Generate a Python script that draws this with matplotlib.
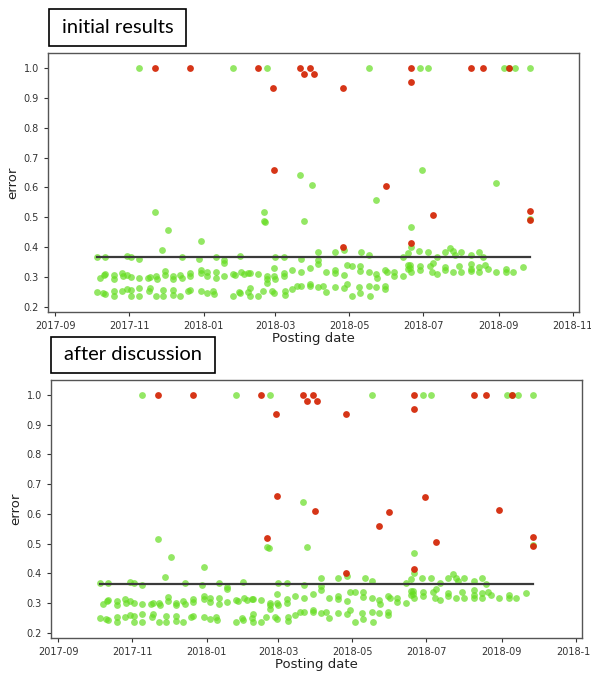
import numpy as np
import pandas as pd
import matplotlib
matplotlib.use("Agg")
import matplotlib.pyplot as plt
import matplotlib.dates as mdates
from matplotlib.patches import Rectangle

# Data: day offsets from 2017-09-01 and error values
start = pd.Timestamp("2017-09-01")

# green points common to both panels
green_days = [
    34, 41, 59, 62, 69, 104, 118, 132, 139, 139, 152,
    88, 93, 120, 82,
    40, 37, 41, 48, 48, 55, 56, 59, 62, 69, 76, 78, 83, 84, 90, 90, 97, 97,
    103, 104, 111, 111, 120, 120, 125, 125, 132, 132, 139, 146, 148, 153, 155, 159,
    34, 39, 41, 48, 48, 55, 59, 62, 62, 69, 69, 77, 78, 83, 89, 89, 97, 97,
    103, 109, 111, 120, 125, 130, 131, 146, 151, 152, 159,
    172, 173, 205, 201,
    181, 188, 202, 216, 216, 216, 230, 238, 252, 258, 286, 290,
    160, 167, 174, 174, 180, 180, 181, 188, 188, 195, 202, 210, 223, 230, 230,
    238, 240, 244, 251, 251, 258, 264, 265, 271, 273, 279, 279, 286, 290, 290,
    160, 160, 167, 171, 174, 178, 180, 189, 189, 195, 199, 202, 210, 210, 216,
    220, 223, 230, 238, 240, 244, 250, 251, 258, 259, 264, 271, 271,
    293, 293, 299, 307, 314, 321, 325, 327, 329, 334, 342, 349, 352,
    292, 292, 293, 300, 300, 308, 310, 311, 314, 321, 321, 327, 332, 334, 342,
    342, 342, 349, 349, 354, 356, 363, 371, 371, 377, 385,
    69, 146, 174, 258, 300, 307, 369, 373, 378, 391,
    391,
]
green_vals = [
    .368, .368, .37, .368, .36, .368, .36, .368, .356, .347, .37,
    .389, .456, .422, .517,
    .308, .297, .31, .308, .294, .313, .302, .308, .301, .297, .297, .301, .302, .294, .321, .308, .302, .294,
    .308, .297, .313, .305, .324, .313, .304, .317, .316, .298, .305, .31, .308, .317, .31, .313,
    .25, .246, .243, .252, .238, .252, .261, .236, .256, .263, .236, .252, .263, .236, .258, .236, .258, .241,
    .236, .254, .258, .252, .246, .252, .243, .236, .25, .245, .25,
    .489, .484, .488, .641,
    .368, .368, .36, .384, .358, .343, .384, .391, .384, .375, .367, .38,
    .313, .31, .302, .294, .33, .302, .294, .313, .302, .324, .317, .33, .317, .324, .313,
    .308, .339, .337, .337, .321, .317, .31, .298, .324, .317, .317, .304, .302, .341, .328,
    .263, .238, .238, .254, .28, .254, .246, .252, .241, .261, .269, .27, .277, .269, .266,
    .269, .25, .268, .263, .277, .237, .266, .246, .269, .237, .268, .269, .261,
    .469, .40, .386, .383, .367, .384, .397, .386, .375, .384, .375, .384, .366,
    .341, .33, .317, .337, .324, .337, .317, .347, .31, .335, .324, .317, .337, .317, .343,
    .328, .319, .335, .317, .339, .328, .317, .328, .317, .316, .335,
    1.0, 1.0, 1.0, 1.0, 1.0, 1.0, 1.0, 1.0, 1.0, 1.0,
    .495,
]

# points that are green in the first panel and red after discussion
moved_days = [172, 211, 264, 302, 363]
moved_vals = [.518, .609, .558, .657, .614]

# red points in both panels
red_days = [82, 111, 167, 201, 210, 293, 342, 352, 373, 205, 213, 179, 237, 293,
            180, 272, 311, 391, 391, 293, 237]
red_vals = [1.0, 1.0, 1.0, 1.0, 1.0, 1.0, 1.0, 1.0, 1.0, .98, .98, .934, .934, .953,
            .66, .605, .507, .521, .491, .415, .40]

mean_error = 0.366
line_days = [34, 391]

titles = ["initial results", "after discussion"]


def to_dates(days):
    return start + pd.to_timedelta(days, unit="D")


green_c = "#66dd22"
red_c = "#d42a0a"

fig = plt.figure(figsize=(5.91, 6.73), dpi=100)
ax_pos = [[0.0812, 0.5364, 0.8985, 0.3848], [0.0863, 0.0520, 0.8985, 0.3834]]
box_pos = [[49, 9, 137, 37], [51, 337, 164, 36]]

for k in range(2):
    ax = fig.add_axes(ax_pos[k])
    if k == 0:
        g_d = green_days + moved_days
        g_v = green_vals + moved_vals
        r_d, r_v = red_days, red_vals
    else:
        g_d, g_v = green_days, green_vals
        r_d = red_days + moved_days
        r_v = red_vals + moved_vals
    ax.scatter(to_dates(g_d), g_v, s=24, color=green_c, alpha=0.7, linewidths=0)
    ax.scatter(to_dates(r_d), r_v, s=24, color=red_c, alpha=0.95, linewidths=0)
    ax.plot(to_dates(line_days), [mean_error, mean_error], color="#3a3a3a", lw=1.6)

    ax.set_xlim(pd.Timestamp("2017-08-26"), pd.Timestamp("2018-11-06"))
    ax.set_ylim(0.183, 1.05)
    ax.set_yticks(np.arange(0.2, 1.01, 0.1))
    ax.yaxis.set_major_formatter(plt.FormatStrFormatter("%.1f"))
    ax.xaxis.set_major_locator(mdates.MonthLocator(bymonth=[1, 3, 5, 7, 9, 11]))
    ax.xaxis.set_major_formatter(mdates.DateFormatter("%Y-%m"))
    ax.tick_params(labelsize=7, colors="#333333", length=3, width=0.8)
    for sp in ax.spines.values():
        sp.set_color("#555555")
        sp.set_linewidth(1.0)
    ax.set_ylabel("error", fontsize=9.5, color="#222222", labelpad=3)
    ax.set_xlabel("Posting date", fontsize=9.5, color="#222222", labelpad=1)

    # boxed panel label
    x0, y0, w, h = box_pos[k]
    fig.patches.append(Rectangle((x0 / 591, 1 - (y0 + h) / 673), w / 591, h / 673,
                                 transform=fig.transFigure, fill=False,
                                 edgecolor="black", lw=1.2))
    fig.text((x0 + w / 2) / 591, 1 - (y0 + h / 2) / 673, titles[k],
             ha="center", va="center", fontsize=14.5, family="Lato")

fig.savefig("out.png", dpi=100)
